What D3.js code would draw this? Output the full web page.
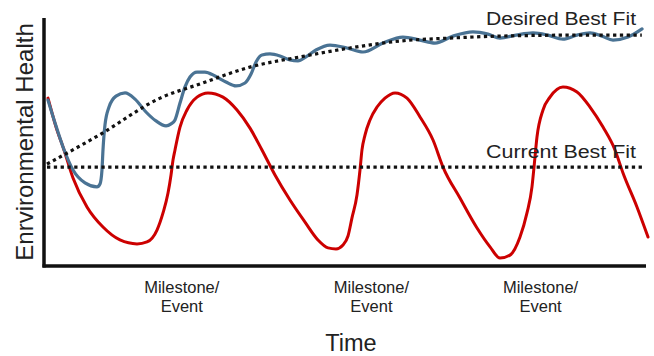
<!DOCTYPE html>
<html><head><meta charset="utf-8">
<script src="https://cdn.jsdelivr.net/npm/d3@7"></script>
<style>
html,body{margin:0;padding:0;background:#fff;}
svg{display:block;font-family:"Liberation Sans",Arial,sans-serif;}
</style></head>
<body>
<svg id="chart" width="654" height="356"></svg>
<script>
// ---- data (time 0..100, environmental health 0..100) ----
const milestoneTicks = [22.8, 54.3, 82.4];
const milestoneLabels = ["Milestone/", "Event"];

const desiredT = [0.5, 9.3, 19.3, 25.9, 34.2, 42.5, 50.8, 59.1, 67.4, 75.7, 89, 99.3];
const desiredV = [41.1, 53, 67.7, 73.4, 80.2, 84.3, 87.9, 90.7, 91.9, 92.7, 93.1, 93.1];

const currentT = [0.5, 99.5];
const currentV = [39.9, 39.9];

const blueT = [0.66,1.83,3.16,4.82,6.81,8.80,9.30,9.63,9.80,10.13,10.80,11.96,13.46,15.12,16.94,18.60,20.27,21.10,21.76,22.59,23.42,24.25,25.42,26.74,28.41,30.23,31.89,33.39,34.39,35.22,36.21,37.54,39.20,40.86,42.19,43.52,45.18,47.51,50.33,52.99,56.31,59.63,62.46,64.95,67.94,71.26,73.75,75.75,78.41,81.23,83.72,86.21,88.54,90.70,92.69,94.52,97.01,99.34];
const blueV = [66.9,57.7,48.0,38.7,33.5,31.9,33.1,38.7,46.8,56.9,64.1,68.5,69.8,67.3,62.1,58.5,56.5,57.3,58.9,65.7,72.2,76.2,78.2,78.2,76.6,74.2,72.6,73.8,77.4,82.3,85.1,85.5,84.7,83.1,82.7,84.3,87.1,89.1,87.9,86.3,89.9,92.3,91.1,89.9,92.7,94.4,93.5,91.9,93.1,94.0,93.1,91.5,93.1,94.0,92.7,91.1,92.3,95.6];

const redT = [0.66,1.33,2.16,3.16,4.82,7.14,9.80,12.62,15.45,17.11,18.77,19.77,20.60,21.10,21.43,21.76,22.59,23.75,25.42,27.24,29.73,32.06,34.22,36.21,38.37,40.86,43.36,45.51,47.18,48.50,49.67,50.50,51.16,51.99,52.49,52.82,53.32,54.15,55.32,56.64,58.31,60.30,62.46,64.62,66.28,69.10,71.93,74.09,75.75,77.41,79.07,80.23,81.06,81.40,81.89,82.89,84.05,86.21,88.54,90.70,92.86,94.85,96.18,98.50,100.33];
const redV = [67.7,61.7,54.8,48.0,35.5,23.8,15.7,10.5,8.9,9.7,14.5,21.4,29.4,36.7,42.7,46.8,56.0,62.9,68.1,69.8,68.1,62.9,55.6,46.8,36.7,26.6,17.7,10.5,7.3,6.9,8.5,12.1,19.4,28.6,38.7,46.8,52.8,58.9,64.1,67.7,69.8,67.7,60.1,50.8,39.9,27.4,15.3,7.7,3.2,4.4,11.7,21.4,31.9,39.9,52.0,62.9,68.1,72.2,70.2,64.1,56.0,46.8,37.5,23.8,11.7];

const seriesLabels = {desired: "Desired Best Fit", current: "Current Best Fit"};
const yTitle = "Enrvironmental Health";
const xTitle = "Time";

// ---- drawing ----
const svg = d3.select("#chart");
const x = d3.scaleLinear().domain([0, 100]).range([44, 646]);
const y = d3.scaleLinear().domain([0, 100]).range([266, 18]);

const zip = (ts, vs) => ts.map((t, i) => [t, vs[i]]);
const line = d3.line().x(d => x(d[0])).y(d => y(d[1]));

// red
svg.append("path")
  .attr("d", line.curve(d3.curveMonotoneX)(zip(redT, redV)))
  .attr("fill", "none").attr("stroke", "#cc0000").attr("stroke-width", 3)
  .attr("stroke-linejoin", "round").attr("stroke-linecap", "round");

// blue
svg.append("path")
  .attr("d", line.curve(d3.curveMonotoneX)(zip(blueT, blueV)))
  .attr("fill", "none").attr("stroke", "#4a7394").attr("stroke-width", 3.2)
  .attr("stroke-linejoin", "round").attr("stroke-linecap", "round");

// dotted best fits
svg.append("path")
  .attr("d", line.curve(d3.curveMonotoneX)(zip(desiredT, desiredV)))
  .attr("fill", "none").attr("stroke", "#111").attr("stroke-width", 3.2)
  .attr("stroke-dasharray", "3.3,3.5");
svg.append("path")
  .attr("d", line.curve(d3.curveLinear)(zip(currentT, currentV)))
  .attr("fill", "none").attr("stroke", "#111").attr("stroke-width", 3.2)
  .attr("stroke-dasharray", "3.3,3.5");

// axes
const xAxis = d3.axisBottom(x).tickValues(milestoneTicks).tickSize(0).tickFormat("");
const gx = svg.append("g").attr("transform", `translate(0,${y(0)})`).call(xAxis);
gx.select(".domain").attr("stroke", "#111").attr("stroke-width", 3.5).attr("d", `M${x(0)-1.5},0H${x(100)}`);
gx.selectAll(".tick").each(function(){
  d3.select(this).select("text").remove();
  const txt = d3.select(this).append("text")
    .attr("text-anchor", "middle").attr("fill", "#222")
    .style("font-size", "16.5px");
  milestoneLabels.forEach((s, i) => txt.append("tspan").attr("x", 0).attr("y", 27 + i * 19).text(s));
});

const yAxis = d3.axisLeft(y).tickValues([]).tickSize(0);
const gy = svg.append("g").attr("transform", `translate(${x(0)},0)`).call(yAxis);
gy.select(".domain").attr("stroke", "#111").attr("stroke-width", 3.5).attr("d", `M0,${y(100)}V${y(0)+1.5}`);

// titles
svg.append("text").attr("x", 351).attr("y", 351).attr("text-anchor", "middle")
  .attr("fill", "#222").style("font-size", "23.5px").text(xTitle);
svg.append("text").attr("transform", "translate(33,142) rotate(-90)").attr("text-anchor", "middle")
  .attr("fill", "#222").style("font-size", "24px").text(yTitle);

// series labels
svg.append("text").attr("x", 636).attr("y", 25).attr("text-anchor", "end")
  .attr("fill", "#222").style("font-size", "18px").attr("textLength", 150).attr("lengthAdjust","spacingAndGlyphs").text(seriesLabels.desired);
svg.append("text").attr("x", 636).attr("y", 158).attr("text-anchor", "end")
  .attr("fill", "#222").style("font-size", "18px").attr("textLength", 150).attr("lengthAdjust","spacingAndGlyphs").text(seriesLabels.current);
</script>
</body></html>
